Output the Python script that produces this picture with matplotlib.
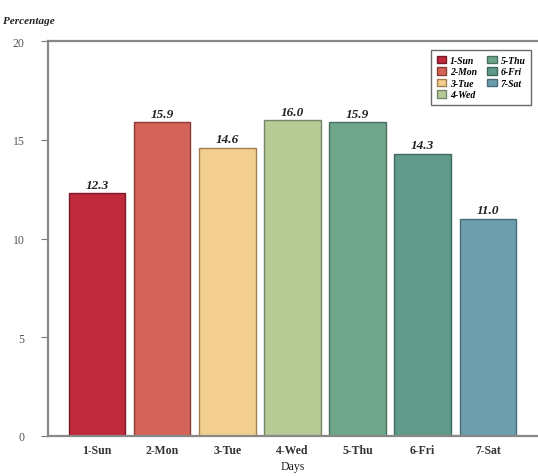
import numpy as np
import matplotlib
matplotlib.use("Agg")
import matplotlib.pyplot as plt

# share of records per weekday
days = ["1-Sun", "2-Mon", "3-Tue", "4-Wed", "5-Thu", "6-Fri", "7-Sat"]
pct = [12.3, 15.9, 14.6, 16.0, 15.9, 14.3, 11.0]
colors = ["#c0283c", "#d4645a", "#f2cf8e", "#b5ca94", "#6fa58b", "#5f9a8b", "#6c9eac"]
edges = ["#7a1a28", "#8a3a34", "#a08050", "#75866a", "#48705e", "#40685e", "#4a6a78"]

plt.rcParams["font.family"] = ["Liberation Serif", "DejaVu Serif"]

fig = plt.figure(figsize=(5.38, 4.77), dpi=100)
ax = fig.add_axes([0.0892, 0.0839, 0.911, 0.828])

x = np.arange(len(days))
bars = ax.bar(x, pct, width=0.87, color=colors, edgecolor=edges, linewidth=1.0, label=days)

for xi, v in zip(x, pct):
    ax.text(xi, v + 0.12, f"{v:.1f}", ha="center", va="bottom",
            fontsize=9.5, fontweight="bold", fontstyle="italic", color="#222222")

ax.set_xlim(-0.75, 6.77)
ax.set_ylim(0, 20)
ax.set_yticks([0, 5, 10, 15, 20])
ax.set_xticks(x)
ax.set_xticklabels(days, fontsize=8.5, fontweight="bold", color="#333333")
ax.tick_params(axis="y", labelsize=8.5, labelcolor="#555555", color="#777777",
               length=5, pad=12)
ax.tick_params(axis="x", length=0, pad=6)

for side in ["left", "bottom", "top"]:
    ax.spines[side].set_color("#888888")
    ax.spines[side].set_linewidth(1.6)
ax.spines["right"].set_visible(False)

ax.set_xlabel("Days", fontsize=8.5, labelpad=3, color="#222222")
fig.text(0.006, 0.955, "Percentage", fontsize=8, fontweight="bold",
         fontstyle="italic", color="#222222", ha="left", va="center")

leg = ax.legend(ncol=2, loc="upper right", bbox_to_anchor=(0.996, 0.99),
                fontsize=7, frameon=True, fancybox=False, edgecolor="#444444",
                handlelength=1.0, handleheight=0.8, handletextpad=0.4,
                columnspacing=1.0, labelspacing=0.25, borderpad=0.6)
leg.get_frame().set_linewidth(1.0)
for t in leg.get_texts():
    t.set_fontweight("bold")
    t.set_fontstyle("italic")

fig.savefig("out.png", dpi=100)
